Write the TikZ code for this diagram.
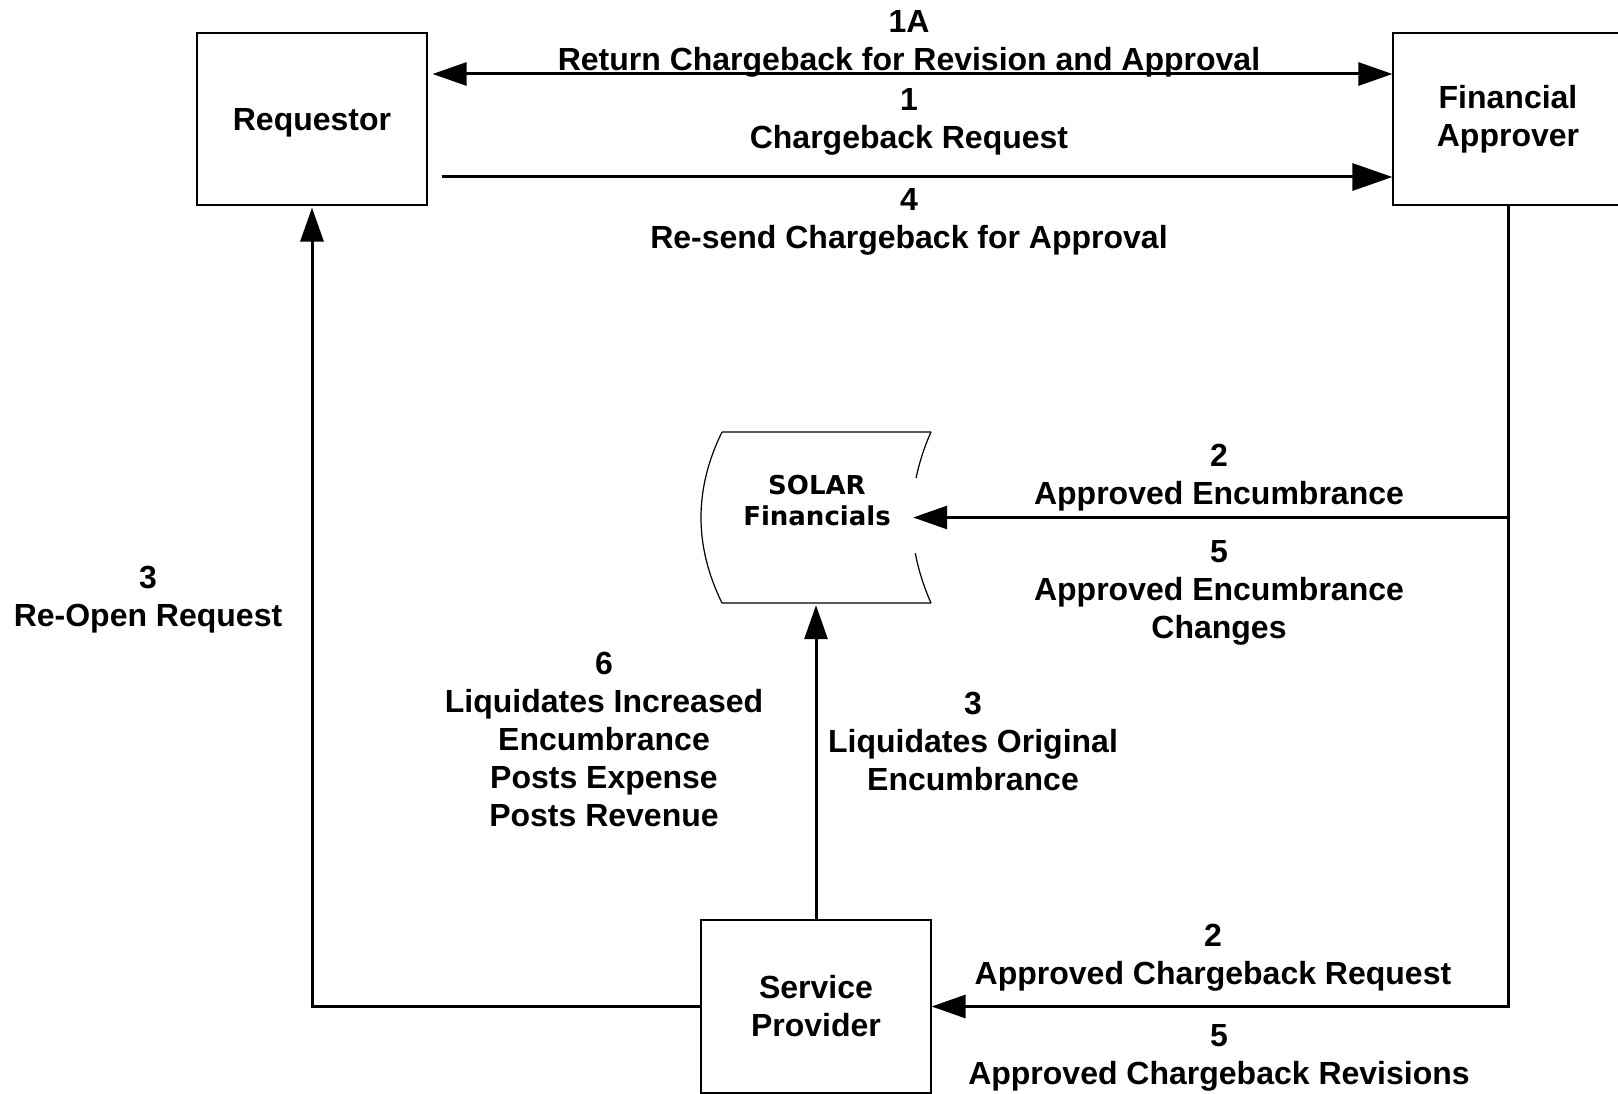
\documentclass[tikz,border=0pt]{standalone}
\usepackage{fontspec}
\setmainfont{Liberation Sans}
\newfontfamily\solarfont{DejaVu Sans}
\usetikzlibrary{arrows.meta}
\begin{document}
\begin{tikzpicture}[x=1pt,y=-1pt,
  box/.style={draw,line width=1.2pt,minimum width=230pt,minimum height=172pt,inner sep=0pt,
    font=\bfseries\fontsize{32}{38}\selectfont,align=center},
  lbl/.style={font=\bfseries\fontsize{32}{38}\selectfont,align=center,inner sep=0pt},
  conn/.style={line width=3pt},
  tip/.style={-{Triangle[length=34pt,width=23pt]}},
  shapeline/.style={line width=1.2pt},
]
\useasboundingbox (0,0) rectangle (1618,1094);

% boxes
\node[box,text height=29pt] (req) at (312,119) {Requestor};
\node[box] (fa) at (1508,119) {Financial\\Approver};
\node[box,minimum height=173pt] (sp) at (816,1006.5) {Service\\Provider};

% SOLAR Financials (stored data)
\node[minimum width=194pt,minimum height=171pt,inner sep=0pt] (solar) at (816,517.5) {};
\draw[shapeline] (722,432) -- (931,432) (722,603) -- (931,603)
  (722,432) .. controls (694,489) and (694,546) .. (722,603);
\begin{scope}
  \clip (850,400) rectangle (960,478) (850,553) rectangle (960,620);
  \draw[shapeline] (931,432) .. controls (905.7,489) and (905.7,546) .. (931,603);
\end{scope}
\node[font=\solarfont\bfseries\fontsize{26}{31}\selectfont,align=center,inner sep=0pt]
  (solarlbl) at (817,500.5) {SOLAR\\Financials};

% connectors
\draw[conn,{Triangle[length=34pt,width=23pt]}-{Triangle[length=34pt,width=23pt]},shorten <=5pt]
  ([yshift=45pt]req.east) -- ([yshift=45pt]fa.west);
\draw[conn,-{Triangle[length=40pt,width=27pt]},shorten <=14pt]
  ([yshift=-58pt]req.east) -- ([yshift=-58pt]fa.west);
\draw[conn,tip] (fa.south) |- (sp.east);
\draw[conn,tip] (fa.south |- solar.east) -- (solar.east);
\draw[conn,tip,shorten >=2pt] (sp.west) -| (req.south);
\draw[conn,tip,shorten >=2pt] (sp.north) -- (solar.south);

% labels
\node[lbl] (l1a) at (909,44) {1A\\Return Chargeback for Revision and Approval};
\node[lbl] (l1) at (909,122) {1\\Chargeback Request};
\node[lbl] (l4) at (909,221.5) {4\\Re-send Chargeback for Approval};
\node[lbl] (l2a) at (1219,478) {2\\Approved Encumbrance};
\node[lbl] (l5a) at (1219,593) {5\\Approved Encumbrance\\Changes};
\node[lbl] (l3a) at (148,600) {3\\Re-Open Request};
\node[lbl] (l6) at (604,739) {6\\Liquidates Increased\\Encumbrance\\Posts Expense\\Posts Revenue};
\node[lbl] (l3b) at (973,741) {3\\Liquidates Original\\Encumbrance};
\node[lbl] (l2b) at (1213,958) {2\\Approved Chargeback Request};
\node[lbl] (l5b) at (1219,1058) {5\\Approved Chargeback Revisions};
\end{tikzpicture}
\end{document}
